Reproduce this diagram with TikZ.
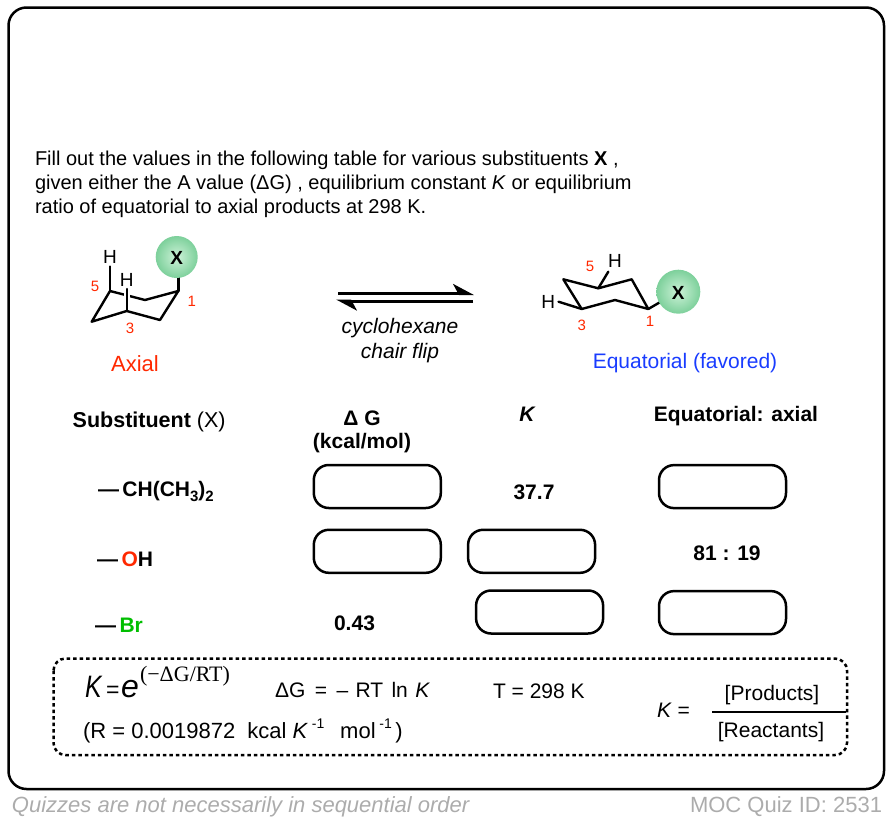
\documentclass[tikz,border=0pt]{standalone}
\usepackage{fontspec}
\setmainfont{Liberation Sans}
\newfontfamily\condf[FakeStretch=0.8]{Liberation Sans}
\newfontfamily\serf{Liberation Serif}
\usetikzlibrary{arrows.meta}
\definecolor{molred}{RGB}{255,40,0}
\definecolor{molblue}{RGB}{25,60,255}
\definecolor{molgreen}{RGB}{0,190,0}
\definecolor{footgray}{RGB}{172,172,172}
\definecolor{ballin}{RGB}{205,242,216}
\definecolor{ballout}{RGB}{125,208,155}
\newcommand{\setfs}[1]{\fontsize{#1}{#1}\selectfont}
\begin{document}
\begin{tikzpicture}[x=1pt,y=-1pt,
  txt/.style={inner sep=0pt, outer sep=0pt},
  bond/.style={line width=2.4pt, line join=round, line cap=round},
  ansbox/.style={draw, line width=2.5pt, rounded corners=15pt, minimum width=127pt, minimum height=43pt, inner sep=0pt},
  tab/.style={txt, font=\setfs{21}\bfseries},
  num/.style={txt, font=\setfs{15}, text=molred},
  hlab/.style={txt, font=\setfs{19}},
  eqarrow/.style={line width=3pt, -{Stealth[harpoon, length=18pt, width=19pt, inset=5pt]}},
  ball/.style={inner color=ballin, outer color=ballout}
]
\useasboundingbox (0,0) rectangle (892,822);

% outer frame
\draw[line width=2.5pt, rounded corners=18pt] (8.5,7.5) rectangle (884,789);

% instructions
\node[txt, anchor=base west, font=\setfs{20}] (l1) at (35,165) {Fill out the values in the following table for various substituents \textbf{X} ,};
\node[txt, anchor=base west, font=\setfs{20}] (l2) at (35,189) {given either the A value (ΔG) , equilibrium constant \textit{K} or equilibrium};
\node[txt, anchor=base west, font=\setfs{20}] (l3) at (35,213) {ratio of equatorial to axial products at 298 K.};

% axial chair
\coordinate (aL) at (91.7,321.7);
\coordinate (a5) at (110,291);
\coordinate (aM) at (145,300);
\coordinate (a1) at (178.3,291);
\coordinate (aB) at (160,320);
\coordinate (a3) at (126.7,311);
\coordinate (aH5e) at (110,266.5);
\coordinate (aH3e) at (126.7,289);
\coordinate (aXe) at (178.3,274);
\draw[bond] (aL) -- (a5) -- (aM) -- (a1) -- (aB) -- (a3) -- cycle;
\draw[bond] (a5) -- (aH5e);
\draw[line width=6pt, white] (126.7,304) -- (126.7,288);
\draw[bond] (a3) -- (aH3e);
\draw[bond] (a1) -- (aXe);
\shade[ball] (176.7,257) circle (21);
\node[txt, font=\setfs{19}\bfseries] (aX) at (176.7,257.5) {X};
\node[hlab] (aH5) at (110,256.5) {H};
\node[hlab] (aH3) at (126.7,280) {H};
\node[num] (an5) at (95,286.7) {5};
\node[num] (an1) at (191.7,301.7) {1};
\node[num] (an3) at (130,328.3) {3};
\node[txt, font=\setfs{22}, text=molred] (axial) at (135,363.3) {Axial};

% equilibrium arrows
\coordinate (t1) at (338,293.5);
\coordinate (t2) at (474,293.5);
\coordinate (u1) at (473,301);
\coordinate (u2) at (336,301);
\draw[eqarrow] (t1) -- (t2);
\draw[eqarrow] (u1) -- (u2);
\node[txt, font=\setfs{21}\itshape] (cyc) at (400,328.3) {cyclohexane};
\node[txt, font=\setfs{21}\itshape] (cfl) at (400,353.3) {chair flip};

% equatorial chair
\coordinate (eL) at (563.3,279.3);
\coordinate (e3) at (581.7,309);
\coordinate (eM) at (615,300);
\coordinate (e1) at (648.3,309);
\coordinate (eR) at (631.7,279.3);
\coordinate (e5) at (598.3,288.3);
\coordinate (eH5e) at (608.3,271.7);
\coordinate (eH3e) at (558.5,301.7);
\coordinate (eXe) at (666.7,298.3);
\draw[bond] (eL) -- (e3) -- (eM) -- (e1) -- (eR) -- (e5) -- cycle;
\draw[bond] (e5) -- (eH5e);
\draw[bond] (e3) -- (eH3e);
\draw[bond] (e1) -- (eXe);
\shade[ball] (678.3,291.7) circle (22);
\node[txt, font=\setfs{19}\bfseries] (eX) at (678.3,292.5) {X};
\node[hlab] (eH5) at (615,260.7) {H};
\node[hlab] (eH3) at (548.3,301.7) {H};
\node[num] (en5) at (590,266.7) {5};
\node[num] (en3) at (581.7,325) {3};
\node[num] (en1) at (650,321.7) {1};
\node[txt, font=\setfs{21}, text=molblue] (equat) at (685,363.3) {Equatorial (favored)};

% table headers
\node[txt, anchor=base west, font=\setfs{21.5}] (hsub) at (72.7,427) {\textbf{Substituent} (X)};
\node[tab, anchor=base] (hdg) at (362,425) {Δ G};
\node[tab, anchor=base] (hunit) at (362,448) {(kcal/mol)};
\node[tab, anchor=base] (hk) at (527,421.5) {\itshape K};
\node[tab, anchor=base] (hratio) at (736,421.7) {Equatorial: axial};

% rows
\node[tab, anchor=base west] (r1) at (98,496.7) {—\,CH(CH\raisebox{-0.22em}{\setfs{15}3})\raisebox{-0.22em}{\setfs{15}2}};
\node[tab, anchor=base west] (r2) at (97,566.7) {—\,\textcolor{molred}{O}H};
\node[tab, anchor=base west] (r3) at (95,632.3) {—\,\textcolor{molgreen}{Br}};

\node[ansbox] (b1) at (377.3,486.5) {};
\node[ansbox] (b2) at (377.3,551.3) {};
\node[ansbox] (b3) at (531.6,551.3) {};
\node[ansbox] (b4) at (539.6,612) {};
\node[ansbox] (b5) at (722.5,486.6) {};
\node[ansbox] (b6) at (722.5,612.6) {};

\node[tab, anchor=base] (v1) at (534,499.3) {37.7};
\node[tab, anchor=base] (v2) at (727,560.7) {81 : 19};
\node[tab, anchor=base] (v3) at (354.5,630.5) {0.43};

% formula box
\draw[line width=2.5pt, dash pattern=on 3.5pt off 3pt, rounded corners=12pt] (53.5,658.5) rectangle (847,755);
\node[txt, anchor=base west, font=\condf\setfs{31}\itshape] (fK) at (85,697) {K};
\node[txt, anchor=base west, font=\setfs{23}] (feq) at (106,697) {=};
\node[txt, anchor=base west, font=\setfs{32}\itshape] (fe) at (121,697) {e};
\node[txt, anchor=base west, font=\serf\setfs{22}] (fexp) at (140,681) {(−ΔG/RT)};
\node[txt, anchor=base west, font=\setfs{21}] (fdg) at (275,697) {ΔG\hspace{0.45em}=\hspace{0.45em}–\hspace{0.35em}RT\hspace{0.4em}ln\hspace{0.35em}\textit{K}};
\node[txt, anchor=base west, font=\setfs{21}] (ft) at (493,698) {T = 298 K};
\node[txt, anchor=base west, font=\setfs{22}] (fr) at (83,738) {(R = 0.0019872\ \ kcal \textit{K}\,\raisebox{0.42em}{\setfs{14}-1}\ \ \,mol\,\raisebox{0.42em}{\setfs{14}-1}\,)};
\node[txt, anchor=base west, font=\setfs{21}] (fk2) at (657,717) {\textit{K} =};
\node[txt, anchor=base, font=\setfs{21}] (fp) at (772,700) {[Products]};
\node[txt, anchor=base, font=\setfs{21}] (fre) at (771,737) {[Reactants]};
\coordinate (fl1) at (712,712);
\coordinate (fl2) at (846,712);
\draw[line width=2.3pt] (fl1) -- (fl2);

% footer
\node[txt, anchor=base west, font=\setfs{22}\itshape, text=footgray] (foot1) at (12,812) {Quizzes are not necessarily in sequential order};
\node[txt, anchor=base east, font=\setfs{22}, text=footgray] (foot2) at (882,812) {MOC Quiz ID: 2531};
\end{tikzpicture}
\end{document}
